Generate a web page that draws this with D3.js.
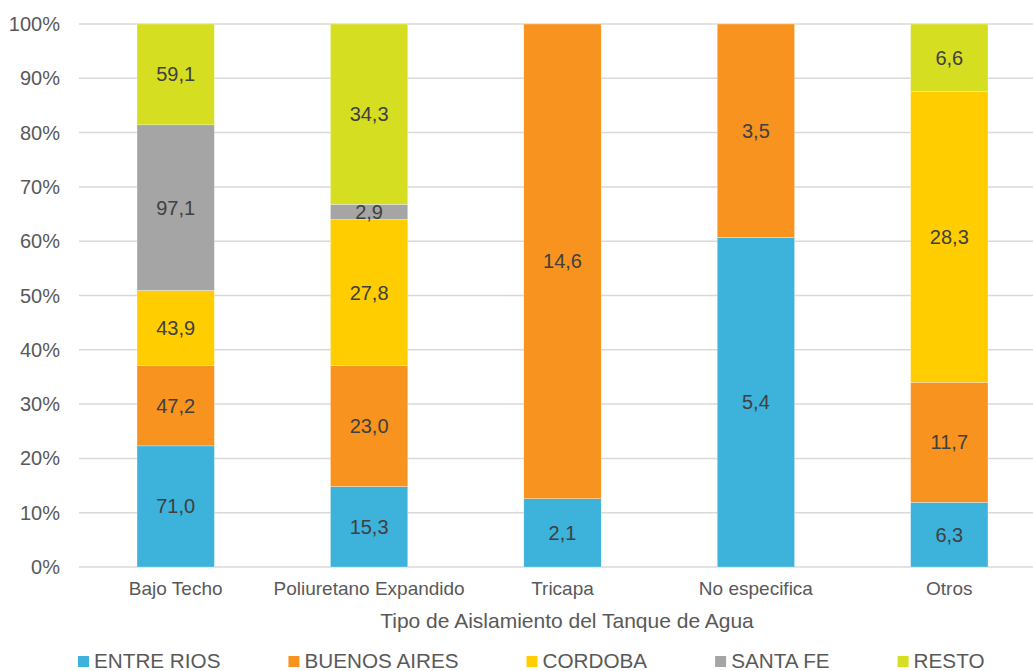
<!DOCTYPE html>
<html><head><meta charset="utf-8">
<script src="https://cdn.jsdelivr.net/npm/d3@7"></script>
<style>body{margin:0;background:#fff;}svg{display:block;font-family:"Liberation Sans",Arial,sans-serif;}</style>
</head><body>
<svg id="chart" width="1033" height="671"></svg>
<script>
const categories = ["Bajo Techo", "Poliuretano Expandido", "Tricapa", "No especifica", "Otros"];
const seriesNames = ["ENTRE RIOS", "BUENOS AIRES", "CORDOBA", "SANTA FE", "RESTO"];
const entreRios   = [71.0, 15.3, 2.1, 5.4, 6.3];
const buenosAires = [47.2, 23.0, 14.6, 3.5, 11.7];
const cordoba     = [43.9, 27.8, 0, 0, 28.3];
const santaFe     = [97.1, 2.9, 0, 0, 0];
const resto       = [59.1, 34.3, 0, 0, 6.6];
const colors = ["#3DB2DA", "#F7931E", "#FFCD00", "#A5A5A5", "#D5DE21"];
const yTicks = [0, 0.1, 0.2, 0.3, 0.4, 0.5, 0.6, 0.7, 0.8, 0.9, 1.0];
const xTitle = "Tipo de Aislamiento del Tanque de Agua";

(function () {
const seriesValues = [entreRios, buenosAires, cordoba, santaFe, resto];
const rows = categories.map((c, i) => {
  const r = {cat: c};
  seriesNames.forEach((s, j) => r[s] = seriesValues[j][i]);
  return r;
});
const stack = d3.stack().keys(seriesNames).offset(d3.stackOffsetExpand);
const stacked = stack(rows);

const svg = d3.select("#chart");
const pl = 79, pr = 1046, pt = 24, pb = 567;
const x = d3.scaleBand().domain(categories).range([pl, pr]).padding(0);
const y = d3.scaleLinear().domain([0, 1]).range([pb, pt]);
const barW = x.bandwidth() * 0.4;

svg.append("g").selectAll("line").data(yTicks).join("line")
  .attr("x1", pl).attr("x2", pr)
  .attr("y1", d => y(d)).attr("y2", d => y(d))
  .attr("stroke", "#D9D9D9").attr("stroke-width", 1.5);

svg.append("g").selectAll("text").data(yTicks).join("text")
  .attr("x", 60).attr("y", d => y(d)).attr("dy", "0.35em")
  .attr("text-anchor", "end").attr("fill", "#595959").attr("font-size", "20px")
  .text(d => d3.format(".0%")(d));

const layers = svg.append("g").selectAll("g").data(stacked).join("g")
  .attr("fill", (d, i) => colors[i]);
layers.selectAll("rect").data(d => d.map(p => ({p, key: d.key}))).join("rect")
  .attr("x", d => x(d.p.data.cat) + (x.bandwidth() - barW) / 2)
  .attr("width", barW)
  .attr("y", d => y(d.p[1]))
  .attr("height", d => Math.max(0, y(d.p[0]) - y(d.p[1])))
  .attr("stroke", "#ffffff").attr("stroke-width", 0.5).attr("stroke-opacity", 0.6);

const labelData = [];
stacked.forEach(layer => layer.forEach(p => {
  const v = p.data[layer.key];
  if (v > 0) labelData.push({cat: p.data.cat, v, mid: (p[0] + p[1]) / 2});
}));
svg.append("g").selectAll("text").data(labelData).join("text")
  .attr("x", d => x(d.cat) + x.bandwidth() / 2)
  .attr("y", d => y(d.mid)).attr("dy", "0.35em")
  .attr("text-anchor", "middle").attr("fill", "#404040").attr("font-size", "20px")
  .text(d => d3.format(".1f")(d.v).replace(".", ","));

svg.append("g").selectAll("text").data(categories).join("text")
  .attr("x", d => x(d) + x.bandwidth() / 2).attr("y", 595)
  .attr("text-anchor", "middle").attr("fill", "#595959").attr("font-size", "19px")
  .text(d => d);

svg.append("text").attr("x", 567).attr("y", 628)
  .attr("text-anchor", "middle").attr("fill", "#595959").attr("font-size", "21px")
  .text(xTitle);

const lg = svg.append("g");
let lx = 78;
seriesNames.forEach((s, i) => {
  lg.append("rect").attr("x", lx).attr("y", 656).attr("width", 11).attr("height", 11).attr("fill", colors[i]);
  const t = lg.append("text").attr("x", lx + 16).attr("y", 668)
    .attr("fill", "#595959").attr("font-size", "20.7px").text(s);
  lx += 16 + t.node().getComputedTextLength() + 68;
});
})();
</script>
</body></html>
